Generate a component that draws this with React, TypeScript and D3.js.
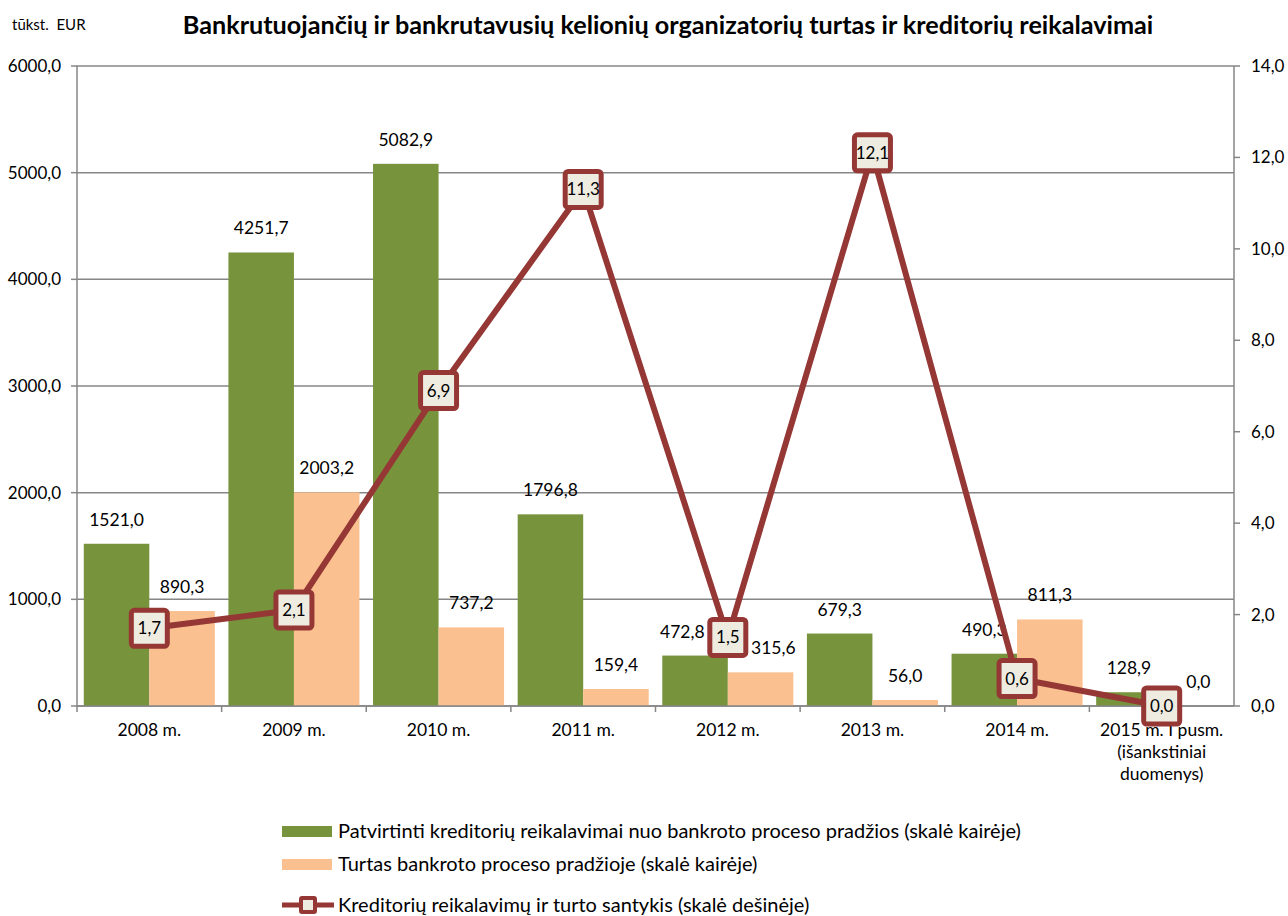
import * as d3 from 'd3'

const categories = ['2008 m.', '2009 m.', '2010 m.', '2011 m.', '2012 m.', '2013 m.', '2014 m.', '2015 m. I pusm.|(išankstiniai|duomenys)']
const claims = [1521.0, 4251.7, 5082.9, 1796.8, 472.8, 679.3, 490.3, 128.9]
const assets = [890.3, 2003.2, 737.2, 159.4, 315.6, 56.0, 811.3, 0.0]
const ratio = [1.7, 2.1, 6.9, 11.3, 1.5, 12.1, 0.6, 0.0]
const leftTicks = [0, 1000, 2000, 3000, 4000, 5000, 6000]
const rightTicks = [0, 2, 4, 6, 8, 10, 12, 14]
const legendLabels = [
  'Patvirtinti kreditorių reikalavimai nuo bankroto proceso pradžios (skalė kairėje)',
  'Turtas bankroto proceso pradžioje (skalė kairėje)',
  'Kreditorių reikalavimų ir turto santykis (skalė dešinėje)',
]

const GREEN = '#77933C'
const ORANGE = '#FAC090'
const RED = '#953735'
const GRID = '#868686'
const FONT = 'Lato, "Open Sans", sans-serif'

const fmt = (v: number) => v.toFixed(1).replace('.', ',')

export default function App() {
  const W = 1288
  const H = 916
  const margin = { top: 66, left: 77, right: 54, bottom: 210 }
  const iw = W - margin.left - margin.right
  const ih = H - margin.top - margin.bottom

  const x = d3.scaleBand<string>().domain(categories).range([0, iw]).padding(0)
  const y = d3.scaleLinear().domain([0, 6000]).range([ih, 0])
  const y2 = d3.scaleLinear().domain([0, 14]).range([ih, 0])
  const bw = x.bandwidth() * 0.453
  const mid = (c: string) => (x(c) || 0) + x.bandwidth() / 2
  const M = 18 // marker half size (without stroke)

  const line = d3
    .line<number>()
    .x((_, i) => mid(categories[i]))
    .y((d) => y2(d))

  // keep bar labels clear of the ratio markers (like the manual nudges in the original)
  const labelX = (cx: number, baseline: number, text: string, i: number, side: -1 | 1) => {
    const half = (text.length * 8.8) / 2
    const mx = mid(categories[i])
    const my = y2(ratio[i])
    const r = M + 2.5
    const vOverlap = baseline > my - r && baseline - 13 < my + r
    if (!vOverlap) return cx
    if (side < 0 && cx + half > mx - r) return mx - r - 3 - half
    if (side > 0 && cx - half < mx + r) return mx + r + 3 + half
    return cx
  }

  return (
    <svg width={W} height={H} style={{ position: 'absolute', left: 0, top: 0, fontFamily: FONT }}>
      <rect width={W} height={H} fill="#fff" />
      <text x={12} y={30} fontSize={15} fill="#000">{'tūkst.\u00A0 EUR'}</text>
      <text x={668} y={34} fontSize={25.2} fontWeight="bold" textAnchor="middle" fill="#000">
        Bankrutuojančių ir bankrutavusių kelionių organizatorių turtas ir kreditorių reikalavimai
      </text>
      <g transform={`translate(${margin.left},${margin.top})`}>
        {/* gridlines */}
        {leftTicks.map((t) => (
          <line key={t} x1={0} x2={iw} y1={y(t)} y2={y(t)} stroke={GRID} strokeWidth={1.5} />
        ))}
        {/* bars */}
        {categories.map((c, i) => {
          const cx = mid(c)
          const b1 = y(claims[i]) - 18
          const b2 = y(assets[i]) - 18
          return (
            <g key={c}>
              <rect x={cx - bw} y={y(claims[i])} width={bw} height={ih - y(claims[i])} fill={GREEN} />
              <rect x={cx} y={y(assets[i])} width={bw} height={ih - y(assets[i])} fill={ORANGE} />
              <text x={labelX(cx - bw / 2, b1, fmt(claims[i]), i, -1)} y={b1} fontSize={17.5} textAnchor="middle">{fmt(claims[i])}</text>
              <text x={labelX(cx + bw / 2, b2, fmt(assets[i]), i, 1)} y={b2} fontSize={17.5} textAnchor="middle">{fmt(assets[i])}</text>
            </g>
          )
        })}
        {/* axes */}
        <line x1={0} x2={0} y1={0} y2={ih} stroke={GRID} strokeWidth={1.5} />
        <line x1={iw} x2={iw} y1={0} y2={ih} stroke={GRID} strokeWidth={1.5} />
        <line x1={0} x2={iw} y1={ih} y2={ih} stroke={GRID} strokeWidth={1.5} />
        {leftTicks.map((t) => (
          <g key={'l' + t}>
            <line x1={-6} x2={0} y1={y(t)} y2={y(t)} stroke={GRID} strokeWidth={1.5} />
            <text x={-16} y={y(t) + 6} fontSize={17} textAnchor="end">{fmt(t)}</text>
          </g>
        ))}
        {rightTicks.map((t) => (
          <g key={'r' + t}>
            <line x1={iw} x2={iw + 6} y1={y2(t)} y2={y2(t)} stroke={GRID} strokeWidth={1.5} />
            <text x={iw + 17} y={y2(t) + 6} fontSize={17} textAnchor="start">{fmt(t)}</text>
          </g>
        ))}
        {categories.map((c, i) => (
          <line key={'t' + i} x1={x(c) || 0} x2={x(c) || 0} y1={ih} y2={ih + 6} stroke={GRID} strokeWidth={1.5} />
        ))}
        {categories.map((c) => (
          <text key={'x' + c} x={mid(c)} y={ih + 30} fontSize={17.5} textAnchor="middle">
            {c.split('|').map((s, j) => (
              <tspan key={j} x={mid(c)} dy={j === 0 ? 0 : 22}>{s}</tspan>
            ))}
          </text>
        ))}
        {/* ratio line */}
        <path d={line(ratio) || ''} fill="none" stroke={RED} strokeWidth={6} strokeLinejoin="round" />
        {ratio.map((v, i) => {
          const cx = mid(categories[i])
          const cy = y2(v)
          return (
            <g key={'m' + i}>
              <rect x={cx - M} y={cy - M} width={2 * M} height={2 * M} rx={3} fill="#EEECE1" stroke={RED} strokeWidth={5} />
              <text x={cx} y={cy + 6} fontSize={17} textAnchor="middle">{fmt(v)}</text>
            </g>
          )
        })}
      </g>
      {/* legend */}
      <g transform="translate(282,0)">
        <rect x={0} y={826} width={50} height={11} fill={GREEN} />
        <text x={56} y={838} fontSize={20}>{legendLabels[0]}</text>
        <rect x={0} y={859} width={50} height={11} fill={ORANGE} />
        <text x={56} y={871} fontSize={20}>{legendLabels[1]}</text>
        <line x1={0} x2={52} y1={905} y2={905} stroke={RED} strokeWidth={5} />
        <rect x={19} y={898} width={14} height={14} rx={1} fill="#EEECE1" stroke={RED} strokeWidth={4} />
        <text x={56} y={912} fontSize={20}>{legendLabels[2]}</text>
      </g>
    </svg>
  )
}
